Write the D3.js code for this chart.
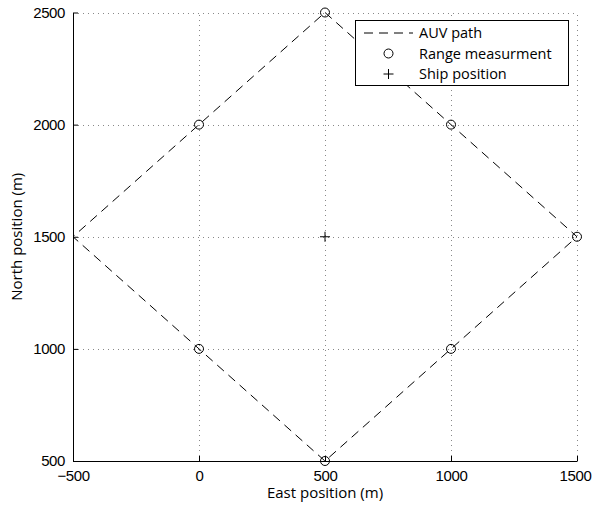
<!DOCTYPE html>
<meta charset='utf-8'>
<title>AUV path</title>
<style>
  body { margin: 0; background: #fff; }
  svg { font-family: 'Open Sans', 'DejaVu Sans', sans-serif; }
  .grid line { stroke: #888; stroke-width: 1; stroke-dasharray: 1,4; }
  .tick text { font-size: 15px; fill: #000; letter-spacing: -0.4px; }
</style>
<body>
<script src='https://cdn.jsdelivr.net/npm/d3@7'></script>
<script>

  // path vertices (east, north), in metres
  var pathEast = [500, 1500, 500, -500, 500]
  var pathNorth = [2500, 1500, 500, 1500, 2500]

  // range measurements
  var rangeEast = [500, 0, 1000, 1500, 1000, 500, 0]
  var rangeNorth = [2500, 2000, 2000, 1500, 1000, 500, 1000]

  var ship = [500, 1500]

  var xTicks = [-500, 0, 500, 1000, 1500]
  var yTicks = [500, 1000, 1500, 2000, 2500]

  var width = 592, height = 506
  var margin = { left: 73, right: 15, top: 12.5, bottom: 45 }

  var svg = d3.select('body').append('svg')
    .attr('width', width)
    .attr('height', height)

  var x = d3.scaleLinear().domain([-500, 1500]).range([margin.left, width - margin.right])
  var y = d3.scaleLinear().domain([500, 2500]).range([height - margin.bottom, margin.top])

  // grid
  var grid = svg.append('g').attr('class', 'grid')
  grid.selectAll('line.v').data(xTicks).enter().append('line')
    .attr('x1', function(d) { return Math.round(x(d)) + 0.5 })
    .attr('x2', function(d) { return Math.round(x(d)) + 0.5 })
    .attr('y1', y(500)).attr('y2', y(2500))
  grid.selectAll('line.h').data(yTicks).enter().append('line')
    .attr('y1', function(d) { return Math.round(y(d)) + 0.5 })
    .attr('y2', function(d) { return Math.round(y(d)) + 0.5 })
    .attr('x1', x(-500)).attr('x2', x(1500))

  // axes, ticks pointing inward
  var xAxis = svg.append('g')
    .attr('transform', 'translate(0,' + y(500) + ')')
    .call(d3.axisBottom(x).tickValues(xTicks).tickSizeInner(-5).tickSizeOuter(0).tickPadding(9)
      .tickFormat(function(d) { return d < 0 ? '\u2212' + (-d) : d }))
  // keep the last label inside the window
  xAxis.selectAll('.tick text').filter(function(d) { return d === 1500 }).attr('dx', -2)

  var yAxis = svg.append('g')
    .attr('transform', 'translate(' + x(-500) + ',0)')
    .call(d3.axisLeft(y).tickValues(yTicks).tickSizeInner(-5).tickSizeOuter(0).tickPadding(8)
      .tickFormat(d3.format('d')))

  svg.selectAll('.domain').attr('stroke', '#000')
  svg.selectAll('.tick line').attr('stroke', '#000')

  // AUV path
  var line = d3.line()
    .x(function(d) { return x(d[0]) })
    .y(function(d) { return y(d[1]) })

  svg.append('path')
    .datum(d3.zip(pathEast, pathNorth))
    .attr('d', line)
    .attr('fill', 'none')
    .attr('stroke', '#000')
    .attr('stroke-width', 1)
    .attr('stroke-dasharray', '9,6')

  // range measurements
  svg.selectAll('circle.meas').data(d3.zip(rangeEast, rangeNorth)).enter().append('circle')
    .attr('class', 'meas')
    .attr('cx', function(d) { return x(d[0]) })
    .attr('cy', function(d) { return y(d[1]) })
    .attr('r', 4.5)
    .attr('fill', 'none')
    .attr('stroke', '#000')
    .attr('stroke-width', 1)

  // ship position
  function plus(g, cx, cy, s) {
    g.append('line').attr('x1', cx - s).attr('x2', cx + s).attr('y1', cy).attr('y2', cy).attr('stroke', '#000')
    g.append('line').attr('x1', cx).attr('x2', cx).attr('y1', cy - s).attr('y2', cy + s).attr('stroke', '#000')
  }
  plus(svg.append('g'), x(ship[0]), y(ship[1]), 5)

  // axis labels
  svg.append('text')
    .attr('x', (x(-500) + x(1500)) / 2)
    .attr('y', 498)
    .attr('text-anchor', 'middle')
    .style('font-size', '15px')
    .text('East position (m)')

  svg.append('text')
    .attr('transform', 'translate(22,' + (y(500) + y(2500)) / 2 + ') rotate(-90)')
    .attr('text-anchor', 'middle')
    .style('font-size', '15px')
    .text('North position (m)')

  // legend
  var legend = svg.append('g')
  legend.append('rect')
    .attr('x', 355.5).attr('y', 20.5)
    .attr('width', 213).attr('height', 65)
    .attr('fill', '#fff').attr('stroke', '#000')

  var rows = [33, 53.5, 74]
  legend.append('line')
    .attr('x1', 364).attr('x2', 413).attr('y1', rows[0]).attr('y2', rows[0])
    .attr('stroke', '#000').attr('stroke-width', 1).attr('stroke-dasharray', '9,6')
  legend.append('circle')
    .attr('cx', 388.5).attr('cy', rows[1]).attr('r', 4.5)
    .attr('fill', 'none').attr('stroke', '#000')
  plus(legend, 388.5, rows[2], 5)

  var labels = ['AUV path', 'Range measurment', 'Ship position']
  legend.selectAll('text').data(labels).enter().append('text')
    .attr('x', 419)
    .attr('y', function(d, i) { return rows[i] })
    .attr('dy', '0.35em')
    .style('font-size', '14.5px')
    .text(function(d) { return d })

</script>
</body>
